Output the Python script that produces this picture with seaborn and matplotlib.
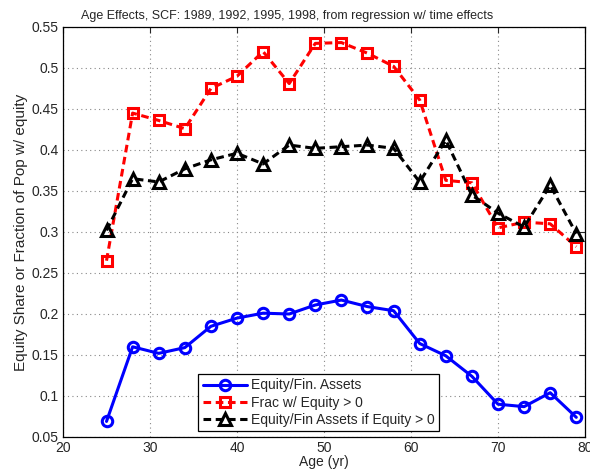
import matplotlib
matplotlib.use("Agg")
import matplotlib.pyplot as plt
import seaborn as sns
import pandas as pd

ages = [25, 28, 31, 34, 37, 40, 43, 46, 49, 52, 55, 58, 61, 64, 67, 70, 73, 76, 79]
equity_fin = [0.069, 0.160, 0.152, 0.159, 0.185, 0.195, 0.201, 0.200, 0.211, 0.217,
              0.209, 0.204, 0.164, 0.149, 0.124, 0.090, 0.087, 0.104, 0.074]
frac_equity = [0.265, 0.445, 0.436, 0.426, 0.475, 0.490, 0.520, 0.481, 0.530, 0.531,
               0.518, 0.502, 0.461, 0.363, 0.360, 0.305, 0.312, 0.310, 0.282]
equity_if_pos = [0.302, 0.365, 0.361, 0.377, 0.388, 0.396, 0.383, 0.406, 0.402, 0.404,
                 0.406, 0.402, 0.361, 0.412, 0.345, 0.323, 0.306, 0.357, 0.298]

labels = ["Equity/Fin. Assets", "Frac w/ Equity > 0", "Equity/Fin Assets if Equity > 0"]
xticks = [20, 30, 40, 50, 60, 70, 80]
yticks = [0.05, 0.1, 0.15, 0.2, 0.25, 0.3, 0.35, 0.4, 0.45, 0.5, 0.55]

sns.set_style("white")
plt.rcParams['font.family'] = ['Liberation Sans', 'DejaVu Sans']
plt.rcParams['font.size'] = 10

df = pd.DataFrame({"age": ages, "a": equity_fin, "b": frac_equity, "c": equity_if_pos})

fig = plt.figure(figsize=(5.9, 4.75), dpi=100)
ax = fig.add_axes([0.1068, 0.08, 0.8847, 0.8632])

sns.lineplot(data=df, x="age", y="a", ax=ax, color="#0000ff", linestyle="-",
             linewidth=2.2, marker="o", markersize=7.5, markerfacecolor="none",
             markeredgecolor="#0000ff", markeredgewidth=2.2, label=labels[0], errorbar=None)
sns.lineplot(data=df, x="age", y="b", ax=ax, color="#ff0000", linestyle=(0, (2.5, 1.5)),
             linewidth=2.2, marker="s", markersize=6.5, markerfacecolor="none",
             markeredgecolor="#ff0000", markeredgewidth=2.2, label=labels[1], errorbar=None)
sns.lineplot(data=df, x="age", y="c", ax=ax, color="black", linestyle=(0, (2.5, 1.5)),
             linewidth=2.2, marker="^", markersize=9, markerfacecolor="none",
             markeredgecolor="black", markeredgewidth=2.2, label=labels[2], errorbar=None)

ax.set_xlim(20, 80)
ax.set_ylim(0.05, 0.55)
ax.set_xticks(xticks)
ax.set_yticks(yticks)
ax.set_yticklabels([f"{v:g}" for v in yticks])
ax.tick_params(direction="in", length=4, width=0.8, top=True, right=True, labelsize=10, pad=3)
ax.grid(True, linestyle=(0, (1, 3)), color="#888888", linewidth=0.8)
for s in ax.spines.values():
    s.set_visible(True)
    s.set_color("black")
    s.set_linewidth(0.9)

ax.set_title("Age Effects, SCF: 1989, 1992, 1995, 1998, from regression w/ time effects",
             fontsize=9, pad=6, x=0.43)
ax.set_xlabel("Age (yr)", fontsize=10, labelpad=0)
ax.set_ylabel("Equity Share or Fraction of Pop w/ equity", fontsize=11, labelpad=3)

leg = ax.legend(loc="lower center", bbox_to_anchor=(0.49, 0.0), frameon=True, fancybox=False,
                edgecolor="black", framealpha=1, fontsize=10, handlelength=3.2,
                borderpad=0.3, labelspacing=0.22, handletextpad=0.3, borderaxespad=0.45)
leg.get_frame().set_linewidth(0.9)

fig.savefig("out.png", dpi=100)
